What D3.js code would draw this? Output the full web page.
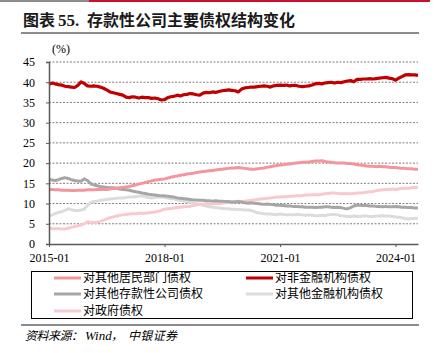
<!DOCTYPE html>
<html>
<head>
<meta charset="utf-8">
<script src="https://cdn.jsdelivr.net/npm/d3@7"></script>
<style>
  body { margin: 0; background: #fff; }
  svg { display: block; }
</style>
</head>
<body>
<svg id="chart"></svg>
<script>
// 月度数据 2015-01 ~ 2024-08（%）
const months = d3.timeMonth.range(new Date(2015, 0, 1), new Date(2024, 8, 1));
const xTicks = [new Date(2015, 0, 1), new Date(2018, 0, 1), new Date(2021, 0, 1), new Date(2024, 0, 1)];
const yTicks = [0, 5, 10, 15, 20, 25, 30, 35, 40, 45];

const seriesNames = ["对其他居民部门债权", "对非金融机构债权", "对其他存款性公司债权", "对其他金融机构债权", "对政府债权"];

const household = [
  13.5, 13.5, 13.4, 13.4, 13.3, 13.3, 13.3, 13.2, 13.2, 13.3, 13.3, 13.3,
  13.4, 13.4, 13.4, 13.5, 13.5, 13.5, 13.5, 13.6, 13.7, 13.8, 13.9, 14.0,
  14.1, 14.2, 14.4, 14.6, 14.8, 15.0, 15.2, 15.4, 15.6, 15.8, 15.9, 16.0,
  16.1, 16.3, 16.5, 16.7, 16.8, 17.0, 17.1, 17.3, 17.4, 17.5, 17.7, 17.8,
  17.9, 18.0, 18.1, 18.2, 18.3, 18.4, 18.5, 18.6, 18.7, 18.8, 18.8, 18.9,
  18.8, 18.7, 18.6, 18.5, 18.5, 18.6, 18.7, 18.8, 19.0, 19.1, 19.3, 19.4,
  19.5, 19.6, 19.7, 19.8, 19.9, 20.0, 20.1, 20.2, 20.2, 20.3, 20.4, 20.5,
  20.5, 20.6, 20.4, 20.3, 20.2, 20.1, 20.0, 20.0, 20.0, 19.9, 19.9, 19.8,
  19.6, 19.5, 19.4, 19.3, 19.2, 19.2, 19.1, 19.2, 19.1, 19.1, 19.0, 18.9,
  18.9, 18.8, 18.7, 18.7, 18.6, 18.6, 18.5, 18.5
];

const nonFinancial = [
  39.5, 39.8, 39.6, 39.4, 39.3, 39.0, 38.9, 38.8, 38.7, 39.2, 40.1, 39.7,
  39.1, 39.0, 39.1, 39.0, 38.8, 38.5, 38.1, 37.6, 37.4, 37.2, 37.0, 36.8,
  36.3, 36.2, 36.4, 36.3, 36.1, 36.3, 36.2, 36.2, 36.0, 36.1, 35.9, 35.6,
  35.7, 36.2, 36.4, 36.5, 36.8, 36.6, 36.9, 37.0, 37.2, 37.1, 36.9, 36.8,
  37.3, 37.5, 37.4, 37.6, 37.5, 37.7, 37.9, 38.0, 38.1, 38.0, 37.9, 37.6,
  38.3, 38.6, 38.7, 38.8, 38.8, 38.9, 39.0, 39.1, 39.0, 38.8, 39.1, 39.2,
  39.3, 39.2, 39.3, 39.1, 39.2, 39.2, 39.0, 38.9, 39.0, 39.1, 39.3, 39.6,
  39.7, 39.6, 39.8, 39.9, 40.0, 39.8, 40.0, 39.9, 40.1, 40.3, 40.4, 40.1,
  40.7, 40.7, 40.8, 40.8, 40.9, 40.8, 40.9, 41.0, 41.1, 41.2, 41.0, 40.9,
  40.5, 41.0, 41.4, 41.8, 41.9, 41.8, 41.8, 41.7
];

const depository = [
  16.0, 15.8, 15.7, 15.9, 16.2, 16.4, 16.2, 15.9, 15.7, 15.6, 15.5, 16.1,
  15.7, 14.9, 14.6, 14.4, 14.2, 14.1, 14.0, 13.9, 13.9, 13.8, 13.6, 13.5,
  13.4, 13.3, 13.1, 12.9, 12.8, 12.6, 12.5, 12.3, 12.2, 12.1, 12.0, 11.9,
  11.9, 11.8, 11.7, 11.6, 11.4, 11.3, 11.2, 11.1, 11.0, 10.9, 10.9, 10.8,
  10.8, 10.7, 10.7, 10.6, 10.7, 10.6, 10.6, 10.5, 10.5, 10.4, 10.4, 10.5,
  10.4, 10.2, 10.1, 10.2, 10.1, 10.0, 9.9, 9.8, 9.9, 9.8, 9.7, 9.6,
  9.6, 9.5, 9.4, 9.4, 9.3, 9.3, 9.2, 9.2, 9.1, 9.1, 9.1, 9.0,
  9.1, 9.1, 9.2, 9.2, 9.1, 9.0, 9.1, 9.0, 8.8, 8.7, 9.0, 9.4,
  9.6, 9.6, 9.5, 9.5, 9.4, 9.4, 9.3, 9.3, 9.2, 9.3, 9.2, 9.2,
  9.3, 9.2, 9.1, 9.1, 9.0, 9.0, 8.9, 8.9
];

const otherFinancial = [
  7.0, 7.2, 7.5, 7.8, 8.0, 8.3, 8.7, 8.5, 8.3, 8.3, 8.4, 8.6,
  9.5, 10.3, 10.5, 10.6, 10.8, 10.9, 11.0, 11.1, 11.2, 11.3, 11.4, 11.4,
  11.5, 11.6, 11.6, 11.7, 11.8, 11.9, 11.7, 11.5, 11.4, 11.5, 11.6, 11.6,
  11.5, 11.4, 11.2, 11.1, 10.9, 10.8, 10.6, 10.5, 10.3, 10.1, 10.0, 9.8,
  9.6, 9.4, 9.2, 9.1, 9.0, 8.9, 8.8, 8.7, 8.7, 8.6, 8.6, 8.5,
  8.5, 8.4, 8.4, 8.3, 8.0, 7.7, 7.6, 7.5, 7.4, 7.4, 7.3, 7.3,
  7.4, 7.3, 7.2, 7.3, 7.2, 7.3, 7.3, 7.2, 7.1, 7.2, 7.1, 7.0,
  7.0, 7.1, 7.0, 7.2, 7.3, 7.3, 7.2, 7.0, 6.9, 6.8, 6.8, 6.9,
  6.8, 6.8, 6.9, 6.9, 6.8, 6.8, 6.9, 6.9, 7.0, 6.9, 6.9, 6.8,
  6.7, 6.6, 6.5, 6.3, 6.2, 6.3, 6.3, 6.4
];

const government = [
  3.9, 3.8, 3.8, 3.8, 3.7, 3.7, 3.9, 4.1, 4.3, 4.5, 4.7, 5.0,
  5.5, 5.4, 5.3, 5.4, 5.6, 5.9, 6.2, 6.5, 6.7, 6.9, 7.1, 7.2,
  7.3, 7.4, 7.5, 7.5, 7.6, 7.6, 7.6, 7.7, 7.8, 7.9, 8.1, 8.3,
  8.6, 8.7, 8.8, 8.9, 9.0, 9.1, 9.2, 9.3, 9.3, 9.5, 9.7, 9.8,
  9.9, 9.9, 9.9, 9.9, 10.0, 10.0, 10.1, 10.2, 10.3, 10.4, 10.5, 10.6,
  10.5, 10.6, 10.7, 10.8, 10.9, 11.0, 11.1, 11.2, 11.3, 11.4, 11.5, 11.6,
  11.6, 11.7, 11.7, 11.8, 11.8, 11.9, 11.9, 12.0, 12.1, 12.1, 12.2, 12.2,
  12.2, 12.3, 12.4, 12.5, 12.6, 12.6, 12.5, 12.4, 12.5, 12.4, 12.4, 12.5,
  12.6, 12.6, 12.7, 12.8, 12.9, 13.0, 13.2, 13.3, 13.4, 13.5, 13.5, 13.6,
  13.5, 13.6, 13.7, 13.8, 13.8, 13.9, 14.0, 14.0
];

const seriesValues = [household, nonFinancial, depository, otherFinancial, government];
const colors = ["#f3969b", "#c00000", "#a6a6a6", "#dcdcdc", "#f9c9d0"];
// 绘制顺序：浅色在下
const drawOrder = [3, 4, 2, 0, 1];

const W = 435, H = 353;
const serif = "'Liberation Serif', 'Times New Roman', serif";
const cjk = "'Noto Sans CJK SC', sans-serif";

const svg = d3.select("#chart").attr("width", W).attr("height", H);

// 顶部色条
svg.append("rect").attr("x", 0).attr("y", 0).attr("width", 89).attr("height", 2).attr("fill", "#8c8c8c");
svg.append("rect").attr("x", 89).attr("y", 0).attr("width", 341).attr("height", 2).attr("fill", "#c8102e");

// 标题
const titleStyle = sel => sel
    .attr("y", 26)
    .style("font-size", "16px")
    .style("font-weight", "bold")
    .style("fill", "#1a1a1a");

svg.append("text").call(titleStyle).attr("x", 23).style("font-family", cjk).text("图表");
svg.append("text").call(titleStyle).attr("x", 58).style("font-family", serif).style("font-size", "17px").text("55.");
svg.append("text").call(titleStyle).attr("x", 87).style("font-family", cjk)
    .attr("textLength", 208).attr("lengthAdjust", "spacing")
    .text("存款性公司主要债权结构变化");

svg.append("rect").attr("x", 21).attr("y", 32).attr("width", 398).attr("height", 2).attr("fill", "#8c8c8c");

const x = d3.scaleTime()
    .domain([months[0], months[months.length - 1]])
    .range([49, 418]);

const y = d3.scaleLinear()
    .domain([0, 45])
    .range([244, 62]);

// 网格线
svg.append("g")
    .selectAll("line")
    .data(yTicks.filter(d => d > 0))
    .enter().append("line")
    .attr("x1", 49).attr("x2", 418)
    .attr("y1", d => y(d)).attr("y2", d => y(d))
    .attr("stroke", "#7f7f7f")
    .attr("stroke-width", 1)
    .attr("stroke-dasharray", "2,1.5");

// 折线
const line = d3.line()
    .x((d, i) => x(months[i]))
    .y(d => y(d));

drawOrder.forEach(k => {
    svg.append("path")
        .datum(seriesValues[k])
        .attr("fill", "none")
        .attr("stroke", colors[k])
        .attr("stroke-width", k === 1 ? 3.2 : 3)
        .attr("stroke-linejoin", "round")
        .attr("d", line);
});

// 坐标轴
const yAxis = svg.append("g")
    .attr("transform", "translate(49,0)")
    .call(d3.axisLeft(y).tickValues(yTicks).tickSize(3).tickPadding(11).tickFormat(d3.format("d")));
yAxis.select(".domain").attr("stroke", "#595959").attr("stroke-width", 1.5);
yAxis.selectAll(".tick line").attr("stroke", "#595959");
yAxis.selectAll("text")
    .style("font-family", serif).style("font-size", "12px").style("fill", "#000");

const xAxis = svg.append("g")
    .attr("transform", "translate(0,244)")
    .call(d3.axisBottom(x).tickValues(xTicks).tickSize(3).tickSizeOuter(0).tickPadding(6).tickFormat(d3.timeFormat("%Y-%m")));
xAxis.select(".domain").attr("stroke", "#595959").attr("stroke-width", 1.5);
xAxis.selectAll(".tick line").attr("stroke", "#595959");
xAxis.selectAll("text")
    .style("font-family", serif).style("font-size", "12px").style("fill", "#000");

svg.append("text")
    .attr("x", 52).attr("y", 53)
    .style("font-family", serif).style("font-size", "12px").style("fill", "#000")
    .text("(%)");

// 图例
svg.append("rect")
    .attr("x", 31.5).attr("y", 271.5).attr("width", 381).attr("height", 47)
    .attr("fill", "none").attr("stroke", "#000").attr("stroke-width", 1);

const legendPos = [
    { lx: 54, ly: 278 }, { lx: 246, ly: 278 },
    { lx: 54, ly: 294 }, { lx: 246, ly: 294 },
    { lx: 54, ly: 311 }
];

const legend = svg.append("g")
    .selectAll("g")
    .data(seriesNames)
    .enter().append("g")
    .attr("transform", (d, i) => `translate(${legendPos[i].lx},${legendPos[i].ly})`);

legend.append("line")
    .attr("x1", 0).attr("x2", 27)
    .attr("y1", 0).attr("y2", 0)
    .attr("stroke", (d, i) => colors[i])
    .attr("stroke-width", 3);

legend.append("text")
    .attr("x", 29).attr("y", 4)
    .style("font-family", cjk).style("font-size", "12px").style("fill", "#000")
    .text(d => d);

// 底部
svg.append("rect").attr("x", 21).attr("y", 324).attr("width", 398).attr("height", 2).attr("fill", "#8c8c8c");

const srcStyle = sel => sel
    .attr("y", 340)
    .style("font-size", "12px").style("font-style", "italic")
    .style("font-family", cjk).style("fill", "#000");

svg.append("text").call(srcStyle).attr("x", 25).attr("textLength", 58).attr("lengthAdjust", "spacing").text("资料来源：");
svg.append("text").call(srcStyle).attr("x", 85).style("font-family", serif).style("font-size", "13px").text("Wind");
svg.append("text").call(srcStyle).attr("x", 111).text("，");
svg.append("text").call(srcStyle).attr("x", 128).attr("textLength", 49).attr("lengthAdjust", "spacing").text("中银证券");
</script>
</body>
</html>
